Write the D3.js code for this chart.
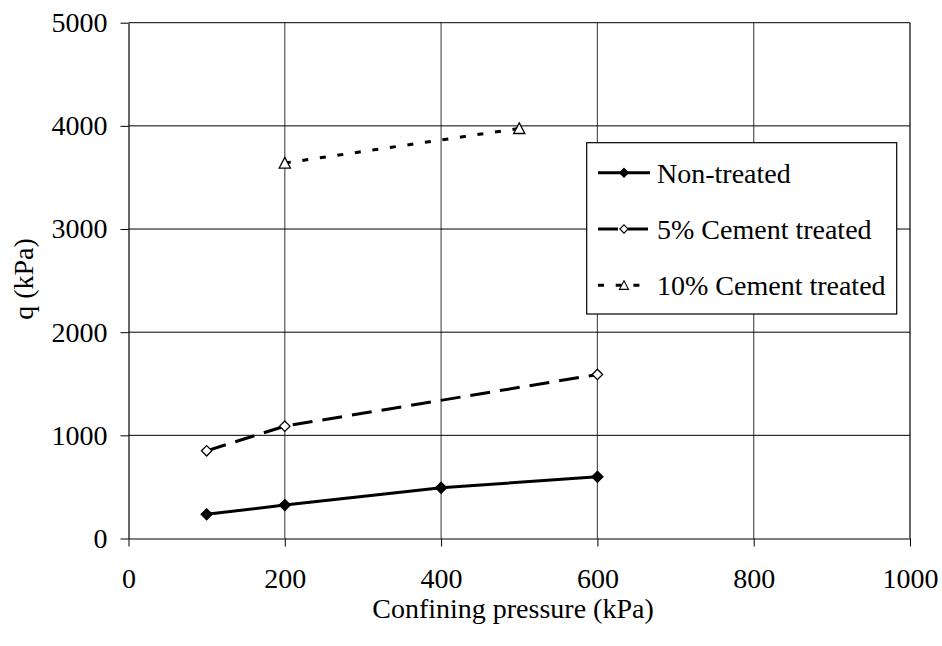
<!DOCTYPE html>
<html>
<head>
<meta charset="utf-8">
<script src="https://cdn.jsdelivr.net/npm/d3@7"></script>
<style>
  body { margin: 0; background: #fff; }
  text { font-family: "Liberation Serif", "Times New Roman", serif; fill: #000; }
</style>
</head>
<body>
<svg id="chart" width="942" height="646"></svg>
<script>
// data
const pressures = [100, 200, 400, 600];
const nonTreated = [234, 324, 492, 598];
const cement5Pressures = [100, 200, 600];
const cement5 = [850, 1089, 1590];
const cement10Pressures = [200, 500];
const cement10 = [3640, 3975];
const seriesNames = ["Non-treated", "5% Cement treated", "10% Cement treated"];
const xTicks = [0, 200, 400, 600, 800, 1000];
const yTicks = [0, 1000, 2000, 3000, 4000, 5000];

const svg = d3.select("#chart");
const plotLeft = 128.5, plotRight = 910, plotTop = 22.7, plotBottom = 538.5;

const x = d3.scaleLinear().domain([0, 1000]).range([plotLeft, plotRight]);
const y = d3.scaleLinear().domain([0, 5000]).range([plotBottom, plotTop]);

// gridlines
svg.append("g")
  .selectAll("line")
  .data(xTicks.slice(1))
  .enter()
  .append("line")
  .attr("x1", d => x(d)).attr("x2", d => x(d))
  .attr("y1", plotTop).attr("y2", plotBottom)
  .attr("stroke", d => d === 1000 ? "#000" : "#555")
  .attr("stroke-width", 1.2);

svg.append("g")
  .selectAll("line")
  .data(yTicks.slice(1))
  .enter()
  .append("line")
  .attr("x1", plotLeft).attr("x2", plotRight)
  .attr("y1", d => y(d)).attr("y2", d => y(d))
  .attr("stroke", "#000")
  .attr("stroke-width", 1);

// axes
const xAxis = svg.append("g")
  .attr("transform", `translate(0,${plotBottom})`)
  .call(d3.axisBottom(x).tickValues(xTicks).tickFormat(d3.format("d"))
    .tickSize(8).tickPadding(22).tickSizeOuter(0));
const yAxis = svg.append("g")
  .attr("transform", `translate(${plotLeft},0)`)
  .call(d3.axisLeft(y).tickValues(yTicks).tickFormat(d3.format("d"))
    .tickSize(8).tickPadding(13).tickSizeOuter(0));

[xAxis, yAxis].forEach(a => {
  a.attr("font-family", null);
  a.select(".domain").attr("stroke", "#000").attr("stroke-width", 1.2);
  a.selectAll(".tick line").attr("stroke", "#000");
  a.selectAll("text")
    .attr("font-size", 28)
    .attr("fill", "#000");
});

// axis titles
svg.append("text")
  .attr("x", 513).attr("y", 618)
  .attr("text-anchor", "middle")
  .attr("font-size", 28)
  .text("Confining pressure (kPa)");

svg.append("text")
  .attr("transform", "translate(33,279) rotate(-90)")
  .attr("text-anchor", "middle")
  .attr("font-size", 28)
  .text("q (kPa)");

// markers
const diamond = r => `M0,${-r}L${r},0L0,${r}L${-r},0Z`;
const triangle = r => `M0,${-r}L${r},${r * 0.9}L${-r},${r * 0.9}Z`;

const series = [
  { xs: pressures, ys: nonTreated, dash: null, marker: diamond(5.5), fill: "#000" },
  { xs: cement5Pressures, ys: cement5, dash: "20,10", marker: diamond(5.2), fill: "#fff" },
  { xs: cement10Pressures, ys: cement10, dash: "6,11.7", marker: triangle(5.6), fill: "#fff" }
];

const line = d3.line().x(d => x(d[0])).y(d => y(d[1]));

series.forEach(s => {
  const pts = s.xs.map((v, i) => [v, s.ys[i]]);
  svg.append("path")
    .datum(pts)
    .attr("d", line)
    .attr("fill", "none")
    .attr("stroke", "#000")
    .attr("stroke-width", 3)
    .attr("stroke-dasharray", s.dash);
  svg.append("g")
    .selectAll("path")
    .data(pts)
    .enter()
    .append("path")
    .attr("transform", d => `translate(${x(d[0])},${y(d[1])})`)
    .attr("d", s.marker)
    .attr("fill", s.fill)
    .attr("stroke", "#000")
    .attr("stroke-width", 1.3);
});

// legend
const legend = svg.append("g");
legend.append("rect")
  .attr("x", 586.7).attr("y", 142.7)
  .attr("width", 310).attr("height", 171.3)
  .attr("fill", "#fff")
  .attr("stroke", "#000")
  .attr("stroke-width", 1.2);

const legendY = [172.7, 229, 285.3];
seriesNames.forEach((name, i) => {
  const s = series[i];
  const g = legend.append("g").attr("transform", `translate(0,${legendY[i]})`);
  g.append("line")
    .attr("x1", 598).attr("x2", 650)
    .attr("y1", 0).attr("y2", 0)
    .attr("stroke", "#000")
    .attr("stroke-width", 3)
    .attr("stroke-dasharray", s.dash);
  g.append("path")
    .attr("transform", "translate(624,0) scale(0.8)")
    .attr("d", s.marker)
    .attr("fill", s.fill)
    .attr("stroke", "#000")
    .attr("stroke-width", 1.4);
  g.append("text")
    .attr("x", 657).attr("y", 10)
    .attr("font-size", 28)
    .text(name);
});
</script>
</body>
</html>
